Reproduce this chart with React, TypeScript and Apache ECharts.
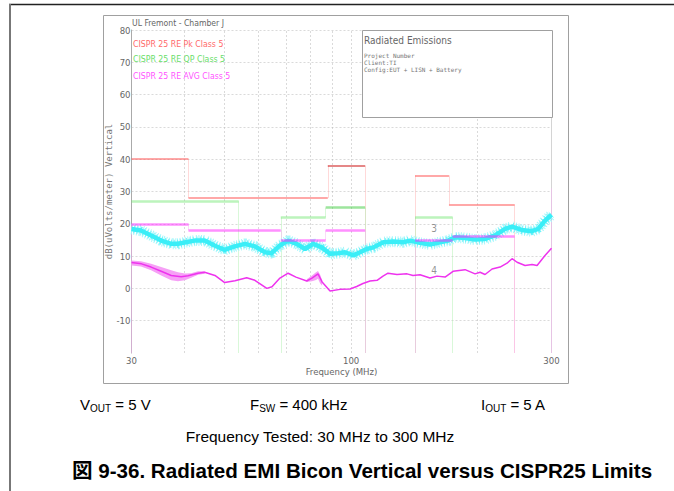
import React, { useEffect, useRef } from 'react';
import * as echarts from 'echarts';

// ---- data ----
const xGrid = [40, 50, 60, 70, 80, 90, 100, 200];
const yGrid = [-10, 0, 10, 20, 30, 40, 50, 60, 70, 80];

// horizontal limit segments: [fStart, fEnd, level]
const pkSegments = [[30, 41, 40], [41, 88, 28], [88, 108, 38], [142, 171, 35], [171, 245, 26]];
const qpSegments = [[30, 54, 27], [68, 87, 22], [87, 108, 25], [142, 174.5, 22]];
const avgSegments = [[30, 41, 20], [41, 68, 18], [68, 87, 15], [87, 108, 18], [142, 174.5, 15], [174.5, 245, 16]];
// vertical limit steps: [freq, from, to]
const pkSteps = [[41, 40, 28], [88, 28, 38], [108, 38, -20], [142, -20, 35], [171, 35, 26], [245, 26, -20]];
const qpSteps = [[54, 27, -20], [68, -20, 22], [87, 22, 25], [108, 25, -20], [142, -20, 22], [174.5, 22, -20]];
const avgSteps = [[30, -20, 20], [41, 20, 18], [68, 18, 15], [87, 15, 18], [108, 18, -20], [142, -20, 15], [174.5, 15, 16], [245, 16, -20], [300, -20, 31]];

const cyanFreq = [30, 31.6, 33.4, 35.3, 37.3, 38.7, 40.4, 42.4, 44.8, 47.3, 50, 52.8, 55.9, 59, 62.4, 64.7, 67.7, 70.8, 74.2, 77.7, 81.2, 85.1, 89.1, 93.1, 96.7, 101.2, 105, 108.9, 113, 119.3, 126.1, 133.1, 138.1, 145.9, 154.1, 162.8, 170.4, 176.8, 186.8, 197.3, 208.4, 220.2, 232.6, 241.3, 254.8, 269.2, 279.1, 289.5, 300];
const cyanLevel = [18.4, 17.9, 16.4, 14.8, 13.8, 13.8, 14.3, 14.8, 14.8, 13.3, 11.9, 13, 13.8, 13, 11.2, 10.9, 13.3, 14.8, 13.8, 12.2, 13.8, 12.7, 10.7, 10.9, 11.2, 10.2, 11.2, 12.2, 12.7, 14.3, 14.5, 14.3, 14.8, 14.1, 13.6, 14.3, 14.8, 15.8, 15.6, 15.1, 15.3, 16.4, 18.4, 19.1, 18.1, 17.7, 18.4, 21, 22.8];

const magFreq = [30, 31.7, 33.4, 35.3, 37.3, 39.4, 40.9, 43.2, 44.8, 47.4, 50, 52.9, 56.4, 59, 63, 64.8, 67.7, 70.8, 73.9, 78.4, 80.7, 83.4, 85.3, 89.1, 94.1, 99.4, 103.1, 106.7, 110.9, 115.3, 119.1, 122.4, 128.6, 135.9, 140.4, 145.9, 154.1, 160.2, 167.4, 174.9, 186.8, 197.3, 202.8, 208.4, 216.6, 226.3, 235.1, 241.7, 248.4, 259.5, 269.7, 277.2, 289.5, 300];
const magLevel = [8, 7.6, 6.6, 5.3, 4.0, 3.6, 3.9, 4.7, 5, 4.0, 1.8, 2.4, 3.3, 2.5, 0, 0.5, 3.2, 4.7, 3.5, 2.3, 3.2, 4.5, 2, -0.8, -0.3, -0.2, 0.6, 1.5, 2.3, 2.5, 3.8, 4.7, 4.3, 4.5, 4.0, 4.2, 3.2, 3.8, 3.5, 5.3, 5.8, 4.5, 5, 4.3, 6, 6.6, 7.8, 9.2, 8.1, 7.1, 7.4, 7.1, 10.2, 12.4];

const rippleFreq = [30, 31.6, 33.4, 35.3, 37.3, 38.7, 40.2, 41.6, 43.2, 44.8];
const rippleHigh = [8.6, 8.4, 7.6, 6.6, 5.6, 5.0, 4.6, 4.7, 5.3, 5.3];
const rippleLow = [7.1, 6.8, 5.6, 4.0, 2.5, 2.2, 2.5, 3.3, 4.2, 4.5];
const blobFreq = [78.4, 80.7, 82.5, 83.4, 84.4, 85.3];
const blobHigh = [2.8, 4.0, 5.0, 5.4, 4.2, 2.5];
const blobLow = [2.0, 2.2, 2.6, 3.0, 1.5, 0.8];

const markerLabels = ['3', '4'];
const markerFreq = [157.6, 157.6];
const markerLevel = [18.5, 5.6];

const yTicks = [-20, -10, 0, 10, 20, 30, 40, 50, 60, 70, 80];

export default function App() {
  const ref = useRef<HTMLDivElement>(null);
  useEffect(() => {
    const chart = echarts.init(ref.current!, null, { renderer: 'svg' });
    const narrow = '"Liberation Sans Narrow", "DejaVu Sans Condensed", sans-serif';
    const mono = '"DejaVu Sans Mono", monospace';
    const arial = '"Liberation Sans", Arial, "Noto Sans CJK JP", sans-serif';

    const hseg = (arr: number[][], color: (i: number) => string, width: number) =>
      arr.map(([a, b, v], i) => ({ coords: [[a, v], [b, v]], lineStyle: { color: color(i), width } }));
    const vseg = (arr: number[][], color: string) =>
      arr.map(([f, a, b]) => ({ coords: [[f, a], [f, b]], lineStyle: { color, width: 1 } }));

    const gridData = [
      ...xGrid.map((f) => ({ coords: [[f, yTicks[0]], [f, yTicks[yTicks.length - 1]]] })),
      ...yGrid.map((v) => ({ coords: [[30, v], [300, v]] })),
    ];

    const bands = [
      { f: rippleFreq, hi: rippleHigh, lo: rippleLow },
      { f: blobFreq, hi: blobHigh, lo: blobLow },
    ];

    const linesBase = {
      type: 'lines',
      coordinateSystem: 'cartesian2d',
      polyline: false,
      silent: true,
      symbol: ['none', 'none'],
    };
    const cyanData = cyanFreq.map((f, i) => [f, cyanLevel[i]]);
    const lineBase = { type: 'line', silent: true, showSymbol: false, symbol: 'none' };

    const subText = (x: number, main: string, sub: string, rest: string) => ({
      type: 'text', z: 101, x, y: 404,
      style: {
        text: `{n|${main}}{s|${sub}}{n|${rest}}`,
        verticalAlign: 'middle',
        rich: {
          n: { fontFamily: arial, fontSize: 15, lineHeight: 18, verticalAlign: 'middle', fill: '#000' },
          s: { fontFamily: arial, fontSize: 10, lineHeight: 10, verticalAlign: 'bottom', fill: '#000' },
        },
      },
    });

    chart.setOption({
      animation: false,
      grid: { left: 131.5, right: 122.5, top: 30, bottom: 138 },
      xAxis: {
        type: 'log',
        logBase: 10,
        min: 30,
        max: 300,
        name: 'Frequency (MHz)',
        nameLocation: 'middle',
        nameGap: 13,
        nameMoveOverlap: false,
        nameTextStyle: { fontFamily: narrow, fontSize: 9.5, lineHeight: 10, color: '#666' },
        axisLine: { show: false },
        axisTick: { show: false },
        splitLine: { show: false },
        axisLabel: {
          showMinLabel: true,
          showMaxLabel: true,
          margin: 2,
          fontFamily: narrow,
          fontSize: 9.5,
          lineHeight: 10,
          color: '#666',
          formatter: (v: number) => String(Math.round(v)),
        },
      },
      yAxis: {
        type: 'value',
        min: -20,
        max: 80,
        interval: 10,
        name: 'dB(uVolts/meter) Vertical',
        nameLocation: 'middle',
        nameGap: 18,
        nameMoveOverlap: false,
        nameTextStyle: { fontFamily: mono, fontSize: 9, color: '#777' },
        axisLine: { show: true, lineStyle: { color: '#aaa', width: 1 } },
        axisTick: { show: false },
        splitLine: { show: false },
        axisLabel: {
          margin: 1,
          fontFamily: narrow,
          fontSize: 9.5,
          color: '#666',
          formatter: (v: number) => (v === -20 ? '' : String(v)),
        },
      },
      series: [
        {
          ...linesBase,
          z: 1,
          lineStyle: { color: '#b5b5b5', width: 1, type: [2, 2] },
          data: gridData,
        },
        {
          ...linesBase,
          z: 2,
          data: [
            { coords: [[300, -20], [300, 80]], lineStyle: { color: '#aaa', width: 1 } },
            ...vseg(pkSteps, '#ffb4b4'),
            ...vseg(qpSteps, '#b4f2b4'),
            ...vseg(avgSteps, '#f8b4f4'),
          ],
        },
        { ...lineBase, z: 3, lineStyle: { color: '#a6f7fb', width: 11, type: [1, 1.6] }, data: cyanData },
        { ...lineBase, z: 3, lineStyle: { color: '#6ff3f9', width: 8, type: [1, 2.3], dashOffset: 1 }, data: cyanData },
        { ...lineBase, z: 4, lineStyle: { color: '#3aeef7', width: 4.5 }, data: cyanData },
        {
          type: 'custom',
          z: 5,
          silent: true,
          coordinateSystem: 'cartesian2d',
          data: bands.map((b, i) => [b.f[0], 0, i]),
          encode: { x: 0, y: 1 },
          renderItem: (params: any, api: any) => {
            const b = bands[api.value(2)];
            const pts: number[][] = [];
            b.f.forEach((f, i) => pts.push(api.coord([f, b.hi[i]])));
            for (let i = b.f.length - 1; i >= 0; i--) pts.push(api.coord([b.f[i], b.lo[i]]));
            return { type: 'polygon', shape: { points: pts }, style: { fill: '#f6a0f6' } };
          },
        },
        { ...lineBase, z: 6, lineStyle: { color: '#ee33ee', width: 1.5 }, data: magFreq.map((f, i) => [f, magLevel[i]]) },
        {
          ...linesBase,
          z: 7,
          data: [
            ...hseg(pkSegments, (i) => (i === 2 ? '#cc1010' : '#ff5252'), 2),
            ...hseg(qpSegments, (i) => (i === 2 ? '#3ccc3c' : '#7aea7a'), 2.5),
            ...hseg(avgSegments, () => '#ff22ff', 2.5),
          ],
        },
        {
          type: 'scatter',
          z: 8,
          silent: true,
          symbolSize: 0,
          data: markerFreq.map((f, i) => [f, markerLevel[i], markerLabels[i]]),
          label: {
            show: true,
            position: 'inside',
            fontFamily: narrow,
            fontSize: 10,
            color: '#777',
            formatter: (p: any) => p.value[2],
          },
        },
      ],
      graphic: [
        { type: 'line', z: 50, shape: { x1: 9, y1: 4.5, x2: 674, y2: 4.5 }, style: { stroke: '#222', lineWidth: 1.5 } },
        { type: 'rect', z: 50, shape: { x: 9, y: 4, width: 2, height: 487 }, style: { fill: '#777' } },
        { type: 'rect', z: -1, shape: { x: 103.5, y: 15.5, width: 465, height: 368 }, style: { fill: 'none', stroke: '#a0a0a0', lineWidth: 1 } },
        { type: 'rect', z: 100, shape: { x: 362.5, y: 30.5, width: 190, height: 87 }, style: { fill: '#fff', stroke: '#a0a0a0', lineWidth: 1 } },
        { type: 'text', z: 101, x: 364, y: 40, style: { text: 'Radiated Emissions', font: `10px ${narrow}`, fill: '#666', verticalAlign: 'middle' } },
        { type: 'text', z: 101, x: 364, y: 55, style: { text: 'Project Number', font: `6px ${mono}`, fill: '#777', verticalAlign: 'middle' } },
        { type: 'text', z: 101, x: 364, y: 62, style: { text: 'Client:TI', font: `6px ${mono}`, fill: '#777', verticalAlign: 'middle' } },
        { type: 'text', z: 101, x: 364, y: 69, style: { text: 'Config:EUT + LISN + Battery', font: `6px ${mono}`, fill: '#777', verticalAlign: 'middle' } },
        { type: 'text', z: 101, x: 132, y: 22.5, style: { text: 'UL Fremont - Chamber J', font: `8.6px ${narrow}`, fill: '#666', verticalAlign: 'middle' } },
        { type: 'text', z: 101, x: 133, y: 44, style: { text: 'CISPR 25 RE Pk Class 5', font: `8.7px ${narrow}`, fill: '#ff6a6a', verticalAlign: 'middle' } },
        { type: 'text', z: 101, x: 133, y: 59, style: { text: 'CISPR 25 RE QP Class 5', font: `8.7px ${narrow}`, fill: '#6ade6a', verticalAlign: 'middle' } },
        { type: 'text', z: 101, x: 133, y: 75.5, style: { text: 'CISPR 25 RE AVG Class 5', font: `8.7px ${narrow}`, fill: '#ff55ff', verticalAlign: 'middle' } },
        subText(80, 'V', 'OUT', ' = 5 V'),
        subText(250, 'F', 'SW', ' = 400 kHz'),
        subText(481, 'I', 'OUT', ' = 5 A'),
        { type: 'text', z: 101, x: 320, y: 436, style: { text: 'Frequency Tested: 30 MHz to 300 MHz', font: `15.5px ${arial}`, fill: '#000', align: 'center', verticalAlign: 'middle' } },
        { type: 'text', z: 101, x: 362, y: 470, style: { text: '図 9-36. Radiated EMI Bicon Vertical versus CISPR25 Limits', font: `bold 20.6px ${arial}`, fill: '#000', align: 'center', verticalAlign: 'middle' } },
      ],
    });
    return () => chart.dispose();
  }, []);
  return <div ref={ref} style={{ position: 'fixed', left: 0, top: 0, width: 674, height: 491, background: '#fff' }} />;
}
